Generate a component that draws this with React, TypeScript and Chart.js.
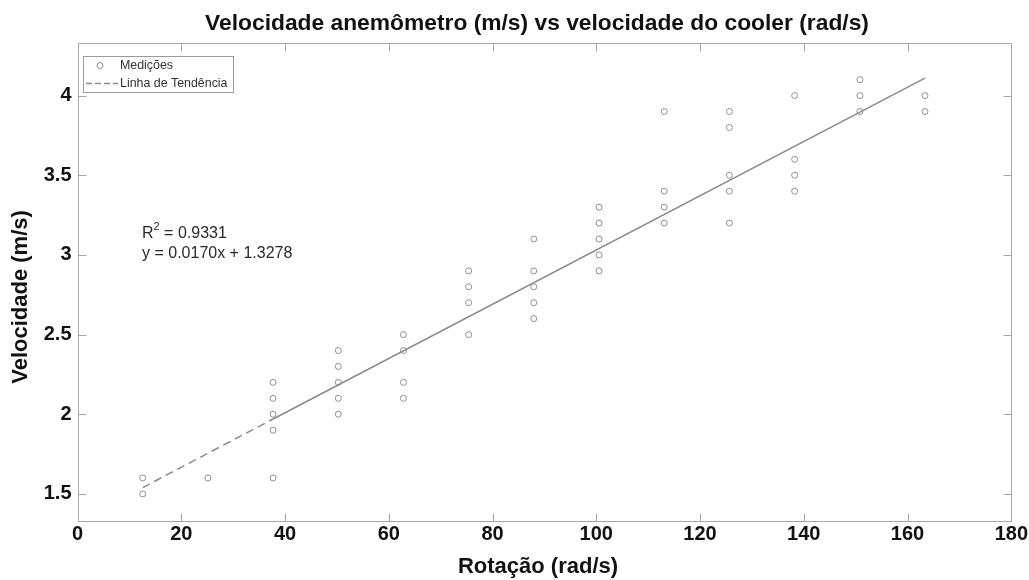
import React, { useEffect, useRef } from "react";
import { Chart, registerables } from "chart.js";

Chart.register(...registerables);

// Rotação (rad/s) of each measurement
const ROTACAO = [
  12.57, 12.57,
  25.13,
  37.7, 37.7, 37.7, 37.7, 37.7,
  50.27, 50.27, 50.27, 50.27, 50.27,
  62.83, 62.83, 62.83, 62.83,
  75.4, 75.4, 75.4, 75.4,
  87.96, 87.96, 87.96, 87.96, 87.96,
  100.53, 100.53, 100.53, 100.53, 100.53,
  113.1, 113.1, 113.1, 113.1,
  125.66, 125.66, 125.66, 125.66, 125.66,
  138.23, 138.23, 138.23, 138.23,
  150.8, 150.8, 150.8,
  163.36, 163.36,
];

// Velocidade (m/s) of each measurement
const VELOCIDADE = [
  1.6, 1.5,
  1.6,
  2.2, 2.1, 2.0, 1.9, 1.6,
  2.4, 2.3, 2.2, 2.1, 2.0,
  2.5, 2.4, 2.2, 2.1,
  2.9, 2.8, 2.7, 2.5,
  3.1, 2.9, 2.8, 2.7, 2.6,
  3.3, 3.2, 3.1, 3.0, 2.9,
  3.9, 3.4, 3.3, 3.2,
  3.9, 3.8, 3.5, 3.4, 3.2,
  4.0, 3.6, 3.5, 3.4,
  4.1, 4.0, 3.9,
  4.0, 3.9,
];

// Trend line
const TREND_DASH_X = [12.57, 37.7];
const TREND_DASH_Y = [1.54, 1.97];
const TREND_SOLID_X = [37.7, 163.36];
const TREND_SOLID_Y = [1.97, 4.11];

const X_TICKS = [0, 20, 40, 60, 80, 100, 120, 140, 160, 180];
const Y_TICKS = [1.5, 2, 2.5, 3, 3.5, 4];

const TITLE = "Velocidade anemômetro (m/s) vs velocidade do cooler (rad/s)";
const X_TITLE = "Rotação (rad/s)";
const Y_TITLE = "Velocidade (m/s)";
const LEGEND_LABELS = ["Medições", "Linha de Tendência"];
const R2_TEXT = "0.9331";
const EQ_TEXT = "y = 0.0170x + 1.3278";

const FONT = '"Liberation Sans", Arial, Helvetica, sans-serif';
const FRAME = "#a6a6a6";
const MARK = "#8e8e8e";

const decorPlugin = {
  id: "decor",
  afterDraw(chart: any) {
    const { ctx, chartArea } = chart;
    const { left, right, top, bottom } = chartArea;
    const xs = chart.scales.x;
    const ys = chart.scales.y;
    ctx.save();

    // frame
    ctx.strokeStyle = FRAME;
    ctx.lineWidth = 1;
    const L = Math.round(left) + 0.5;
    const R = Math.round(right) + 0.5;
    const T = Math.round(top) + 0.5;
    const B = Math.round(bottom) + 0.5;
    ctx.beginPath();
    ctx.rect(L, T, R - L, B - T);
    ctx.stroke();

    // inward ticks
    ctx.beginPath();
    const tl = 8;
    X_TICKS.forEach((v) => {
      const p = Math.round(xs.getPixelForValue(v)) + 0.5;
      ctx.moveTo(p, B);
      ctx.lineTo(p, B - tl);
      ctx.moveTo(p, T);
      ctx.lineTo(p, T + tl);
    });
    Y_TICKS.forEach((v) => {
      const p = Math.round(ys.getPixelForValue(v)) + 0.5;
      ctx.moveTo(L, p);
      ctx.lineTo(L + tl, p);
      ctx.moveTo(R, p);
      ctx.lineTo(R - tl, p);
    });
    ctx.stroke();

    // title
    ctx.fillStyle = "#111";
    ctx.textAlign = "center";
    ctx.textBaseline = "middle";
    ctx.font = `bold 22.8px ${FONT}`;
    ctx.fillText(TITLE, 537, 24);

    // axis titles
    ctx.font = `bold 22px ${FONT}`;
    ctx.fillText(X_TITLE, 538, 567);
    ctx.save();
    ctx.translate(21, 297);
    ctx.rotate(-Math.PI / 2);
    ctx.fillText(Y_TITLE, 0, 0);
    ctx.restore();

    // legend box
    ctx.fillStyle = "#fff";
    ctx.strokeStyle = "#9a9a9a";
    ctx.lineWidth = 1;
    ctx.fillRect(83.5, 56.5, 150, 36);
    ctx.strokeRect(83.5, 56.5, 150, 36);
    // marker
    ctx.strokeStyle = MARK;
    ctx.beginPath();
    ctx.arc(100, 65.5, 3, 0, Math.PI * 2);
    ctx.stroke();
    // dashed sample
    ctx.strokeStyle = "#8a8a8a";
    ctx.lineWidth = 1.3;
    ctx.setLineDash([6, 3]);
    ctx.beginPath();
    ctx.moveTo(86, 83.5);
    ctx.lineTo(118, 83.5);
    ctx.stroke();
    ctx.setLineDash([]);
    ctx.fillStyle = "#333";
    ctx.textAlign = "left";
    ctx.font = `12.4px ${FONT}`;
    ctx.fillText(LEGEND_LABELS[0], 120, 65.5);
    ctx.fillText(LEGEND_LABELS[1], 120, 83.5);

    // annotation
    ctx.fillStyle = "#2a2a2a";
    ctx.font = `16px ${FONT}`;
    ctx.textBaseline = "alphabetic";
    ctx.fillText("R", 142, 238);
    const rw = ctx.measureText("R").width;
    ctx.font = `11px ${FONT}`;
    ctx.fillText("2", 142 + rw, 230);
    const sw = ctx.measureText("2").width;
    ctx.font = `16px ${FONT}`;
    ctx.fillText(" = " + R2_TEXT, 142 + rw + sw, 238);
    ctx.fillText(EQ_TEXT, 142, 258);

    ctx.restore();
  },
};

export default function App() {
  const ref = useRef<HTMLCanvasElement | null>(null);

  useEffect(() => {
    if (!ref.current) return;
    const pts = ROTACAO.map((x, i) => ({ x, y: VELOCIDADE[i] }));
    const dash = TREND_DASH_X.map((x, i) => ({ x, y: TREND_DASH_Y[i] }));
    const solid = TREND_SOLID_X.map((x, i) => ({ x, y: TREND_SOLID_Y[i] }));
    const tickFont = { family: FONT, size: 20, weight: "bold" as const };

    const chart = new Chart(ref.current, {
      type: "scatter",
      data: {
        datasets: [
          {
            label: LEGEND_LABELS[0],
            data: pts,
            showLine: false,
            pointRadius: 3,
            pointBorderWidth: 1,
            pointBackgroundColor: "rgba(0,0,0,0)",
            pointBorderColor: MARK,
          },
          {
            label: LEGEND_LABELS[1],
            data: dash,
            showLine: true,
            pointRadius: 0,
            borderColor: "#8a8a8a",
            borderWidth: 1.5,
            borderDash: [8, 5],
          },
          {
            label: "solid",
            data: solid,
            showLine: true,
            pointRadius: 0,
            borderColor: "#8a8a8a",
            borderWidth: 1.5,
          },
        ],
      },
      options: {
        responsive: false,
        animation: false,
        devicePixelRatio: 1,
        layout: { padding: { left: 0, right: 17.5, top: 43, bottom: 0 } },
        plugins: {
          legend: { display: false },
          tooltip: { enabled: false },
          title: { display: false },
        },
        scales: {
          x: {
            type: "linear",
            position: "bottom",
            min: 0,
            max: 180,
            grid: { display: false, drawTicks: false },
            border: { display: false },
            ticks: {
              font: tickFont,
              color: "#111",
              padding: 1,
              maxRotation: 0,
              callback: (v: any) => String(v),
            },
            afterBuildTicks: (s: any) => {
              s.ticks = X_TICKS.map((v) => ({ value: v }));
            },
            afterFit: (s: any) => {
              s.height = 59;
            },
          },
          y: {
            type: "linear",
            min: 1.33,
            max: 4.33,
            grid: { display: false, drawTicks: false },
            border: { display: false },
            ticks: {
              font: tickFont,
              color: "#111",
              padding: 6,
              callback: (v: any) => String(v),
            },
            afterBuildTicks: (s: any) => {
              s.ticks = Y_TICKS.map((v) => ({ value: v }));
            },
            afterFit: (s: any) => {
              s.width = 77.5;
            },
          },
        },
      },
      plugins: [decorPlugin],
    });
    return () => chart.destroy();
  }, []);

  return (
    <div style={{ position: "absolute", left: 0, top: 0, width: 1029, height: 580, background: "#fff" }}>
      <canvas ref={ref} width={1029} height={580} style={{ display: "block" }} />
    </div>
  );
}
